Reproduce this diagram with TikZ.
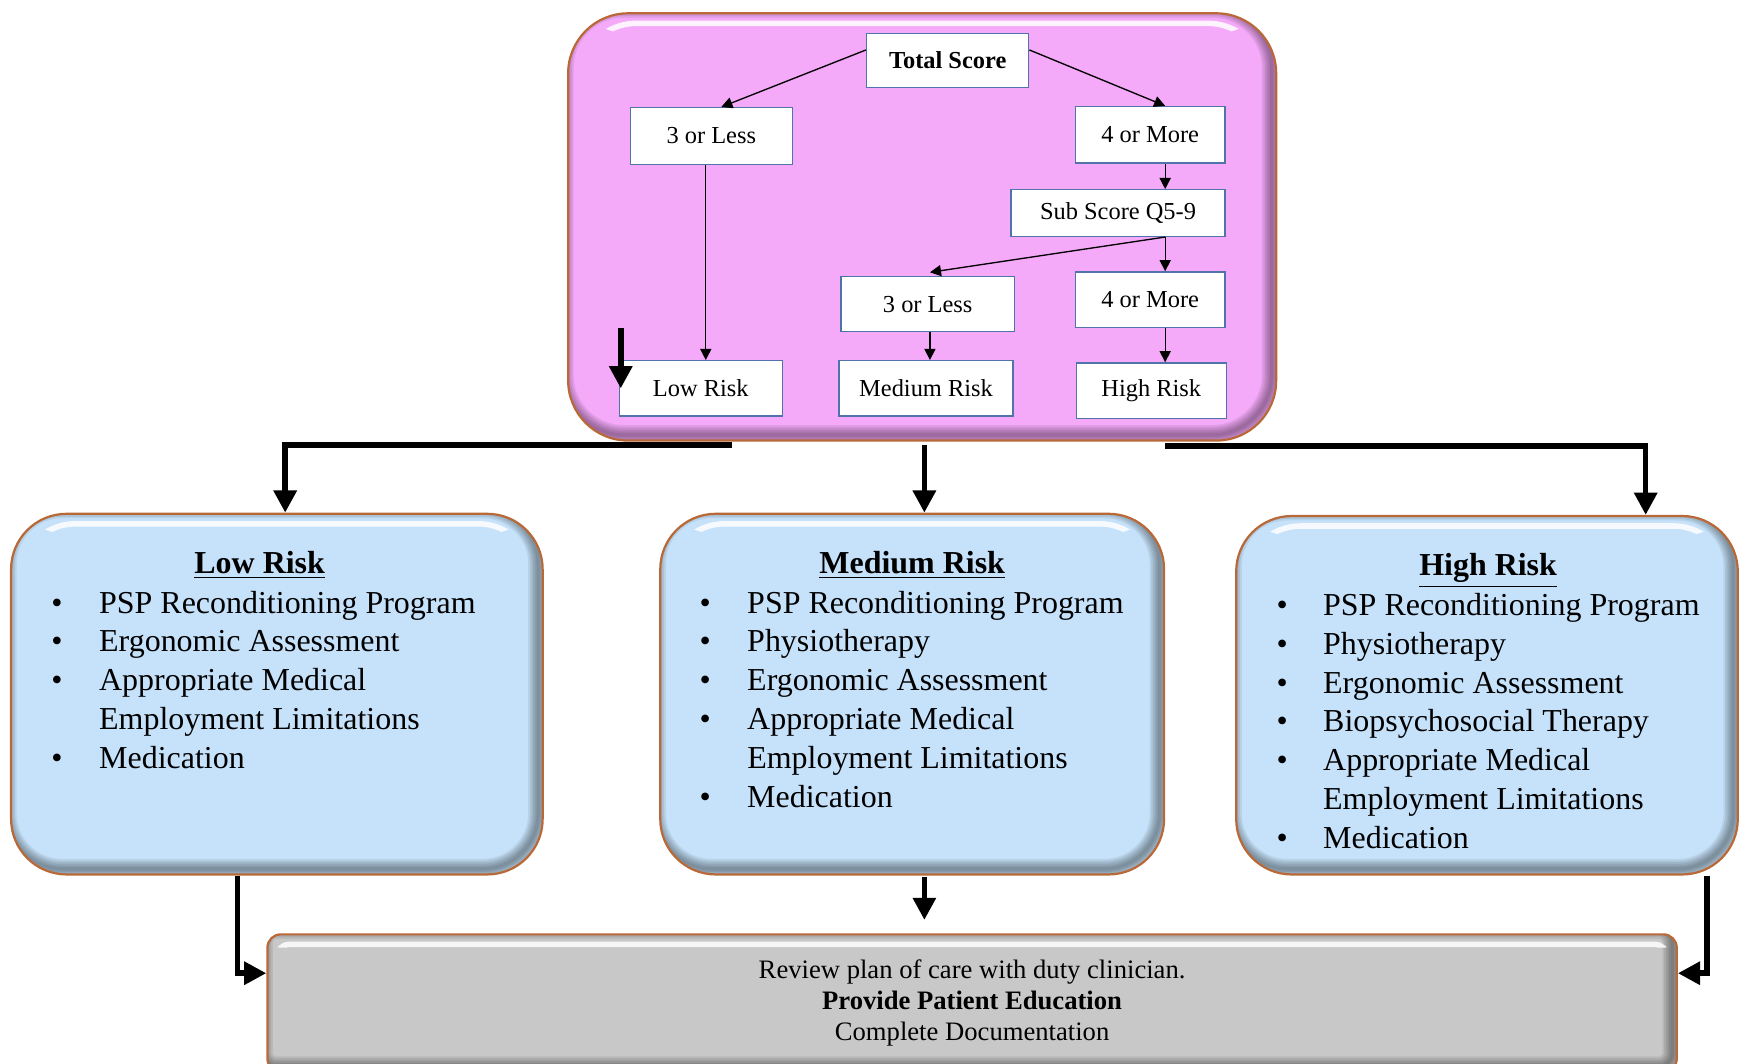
\documentclass[tikz,border=0pt]{standalone}
\usepackage{fontspec}
\setmainfont{Liberation Serif}
\usetikzlibrary{arrows.meta,calc}
\definecolor{pinkf}{RGB}{244,169,249}
\definecolor{bluef}{RGB}{198,226,250}
\definecolor{grayf}{RGB}{200,200,200}
\definecolor{edgeb}{RGB}{185,105,55}
\definecolor{innerb}{RGB}{80,115,170}
\tikzset{
  bevelbox/.style n args={3}{
    fill=#1, draw=edgeb, line width=1pt, rounded corners=#2, inner sep=0pt,
    path picture={
      \foreach \w in {1.5,3,4.5,6,7.5,9}{
        \draw[black, opacity=0.07, line width=\w pt, rounded corners=#2]
          ([shift={(-2pt,2.5pt)}]path picture bounding box.south west) rectangle
          ([shift={(-2pt,2.5pt)}]path picture bounding box.north east);
      }
      \begin{scope}
        \clip (path picture bounding box.north west) rectangle ([yshift=-#3]path picture bounding box.north east);
        \draw[white, opacity=0.85, line width=2.5pt, rounded corners=#2]
          ([shift={(4pt,4pt)}]path picture bounding box.south west) rectangle
          ([shift={(-4pt,-4.5pt)}]path picture bounding box.north east);
      \end{scope}
    }
  },
  inbox/.style={draw=innerb, fill=white, line width=0.6pt, inner sep=0pt, font=\fontsize{11}{13}\selectfont},
  smallarrow/.style={line width=0.6pt, -{Triangle[width=5pt,length=5pt]}},
  bigarrow/.style={line width=2.5pt, -{Triangle[width=10pt,length=10pt]}},
  listtxt/.style={anchor=base west, inner sep=0pt, font=\fontsize{14.4}{17.5}\selectfont},
  titletxt/.style={anchor=base, inner sep=0pt, font=\fontsize{14.4}{17.5}\selectfont\bfseries},
}
\begin{document}
\begin{tikzpicture}[x=0.5pt, y=-0.5pt]
\useasboundingbox (0,0) rectangle (1568,958);

% top pink box
\node[bevelbox={pinkf}{27pt}{9pt}, minimum width=319pt, minimum height=192.5pt] (pink) at (831,204.5) {};

\node[inbox, minimum width=73pt, minimum height=24.5pt, font=\fontsize{11}{13}\selectfont\bfseries] (ts) at (854,54.5) {Total Score};
\node[inbox, minimum width=73pt, minimum height=25.5pt] (l3) at (641,122.5) {3 or Less};
\node[inbox, minimum width=67.5pt, minimum height=25.5pt] (t4) at (1036.5,121.5) {4 or More};
\node[inbox, minimum width=96.5pt, minimum height=21pt] (sub) at (1007.5,192) {Sub Score Q5-9};
\node[inbox, minimum width=78pt, minimum height=25pt] (m3) at (836,274) {3 or Less};
\node[inbox, minimum width=67.5pt, minimum height=25pt] (b4) at (1036.5,270) {4 or More};
\node[inbox, minimum width=73.5pt, minimum height=25pt] (lr) at (631.5,350) {Low Risk};
\node[inbox, minimum width=78.5pt, minimum height=25pt] (mr) at (834.5,350) {Medium Risk};
\node[inbox, minimum width=67.5pt, minimum height=25pt] (hr) at (1037.5,352) {High Risk};

% blue boxes
\node[bevelbox={bluef}{25pt}{9pt}, minimum width=239.5pt, minimum height=162.5pt] (low) at (249.5,625.5) {};
\node[bevelbox={bluef}{25pt}{9pt}, minimum width=227pt, minimum height=162.5pt] (med) at (822,625.5) {};
\node[bevelbox={bluef}{25pt}{9pt}, minimum width=226pt, minimum height=161.5pt] (high) at (1340,626.5) {};

% gray box
\node[bevelbox={grayf}{6pt}{6pt}, minimum width=635pt, minimum height=62pt] (gray) at (876,904) {};

% texts in blue boxes
\node[titletxt] (lowT) at (234,517) {\underline{Low Risk}};
\node[listtxt] (lowL) at (46,552.5) {\begin{tabular}[t]{@{}p{21.5pt}@{}l@{}}
\textbullet & PSP Reconditioning Program\\
\textbullet & Ergonomic Assessment\\
\textbullet & Appropriate Medical\\
 & Employment Limitations\\
\textbullet & Medication
\end{tabular}};

\node[titletxt] (medT) at (822,517) {\underline{Medium Risk}};
\node[listtxt] (medL) at (630,552.5) {\begin{tabular}[t]{@{}p{21.5pt}@{}l@{}}
\textbullet & PSP Reconditioning Program\\
\textbullet & Physiotherapy\\
\textbullet & Ergonomic Assessment\\
\textbullet & Appropriate Medical\\
 & Employment Limitations\\
\textbullet & Medication
\end{tabular}};

\node[titletxt] (highT) at (1341,519) {\underline{High Risk}};
\node[listtxt] (highL) at (1150,554.5) {\begin{tabular}[t]{@{}p{21pt}@{}l@{}}
\textbullet & PSP Reconditioning Program\\
\textbullet & Physiotherapy\\
\textbullet & Ergonomic Assessment\\
\textbullet & Biopsychosocial Therapy\\
\textbullet & Appropriate Medical\\
 & Employment Limitations\\
\textbullet & Medication
\end{tabular}};

\node[font=\fontsize{12}{14}\selectfont, align=center, inner sep=0pt] (gtext) at (876,904)
  {Review plan of care with duty clinician.\\\textbf{Provide Patient Education}\\Complete Documentation};

% thin arrows inside pink box
\draw[smallarrow] ($(ts.west)+(0,-9.5)$) -- ($(l3.north)+(9,0)$);
\draw[smallarrow] ($(ts.east)+(0,-9.5)$) -- ($(t4.north)+(13.5,0)$);
\coordinate (lc) at ($(l3.south)+(-5,0)$);
\draw[smallarrow] (lc) -- (lc |- lr.north);
\coordinate (rc) at ($(t4.south)+(13.5,0)$);
\draw[smallarrow] (rc) -- (rc |- sub.north);
\draw[smallarrow] (rc |- sub.south) -- (rc |- b4.north);
\draw[smallarrow] (rc |- sub.south) -- ($(m3.north)+(2,-3)$);
\draw[smallarrow] (rc |- b4.south) -- (rc |- hr.north);
\coordinate (mc) at ($(m3.south)+(2,0)$);
\draw[smallarrow] (mc) -- (mc |- mr.north);

% stray thick arrow on Low Risk
\coordinate (ka) at ($(lr.west)+(2,-54)$);
\draw[bigarrow] (ka) -- ($(lr.west)+(2,0)$);

% thick connectors to the blue boxes
\coordinate (sL) at ($(pink.south)+(-171,3)$);
\draw[bigarrow] (sL) -| ($(low.north)+(7.5,0)$);
\coordinate (sM) at ($(pink.south)+(2,3)$);
\draw[bigarrow] (sM) -- (sM |- med.north);
\coordinate (sR) at ($(pink.south)+(219,4)$);
\draw[bigarrow] (sR) -| ($(high.north)+(143,0)$);

% thick connectors to the gray box
\coordinate (bL) at ($(low.south)+(-35.5,0)$);
\draw[bigarrow] (bL) |- ($(gray.north west)+(0,36)$);
\coordinate (bM) at ($(med.south)+(11,1)$);
\draw[bigarrow, shorten >=6pt] (bM) -- (bM |- gray.north);
\coordinate (bR) at ($(high.south)+(198,0)$);
\draw[bigarrow] (bR) |- ($(gray.north east)+(0,36)$);
\end{tikzpicture}
\end{document}
